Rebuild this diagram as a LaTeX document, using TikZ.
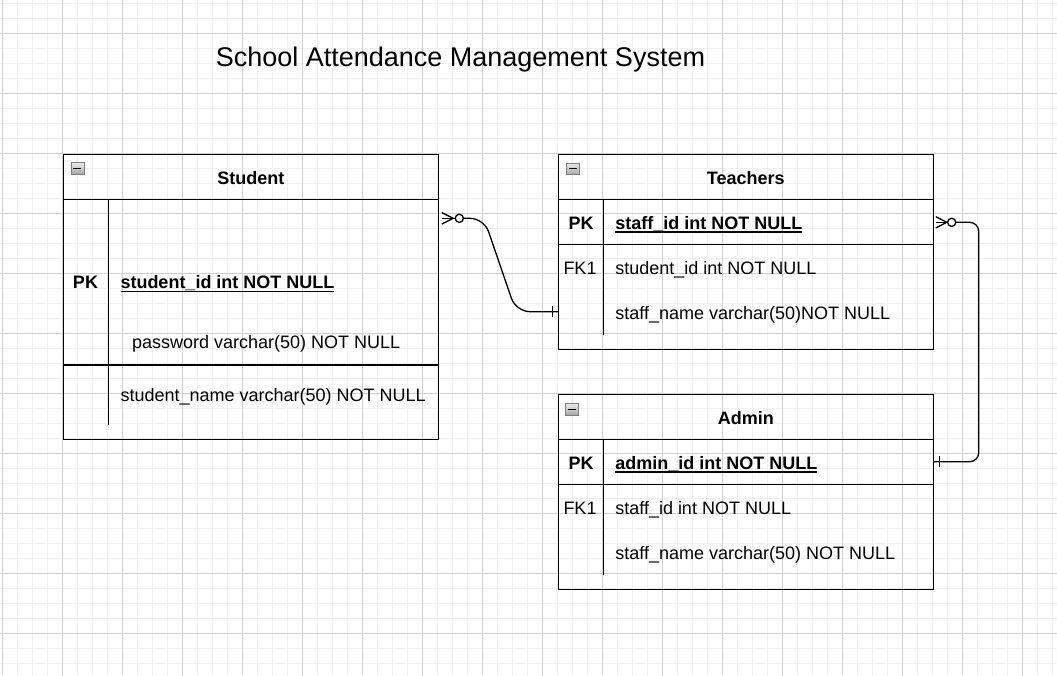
\documentclass[tikz,border=0pt]{standalone}
\usepackage{fontspec}
\setmainfont{Liberation Sans}
\begin{document}
\begin{tikzpicture}[x=1pt,y=-1pt,
  minorgrid/.style={draw=black!6, line width=1pt},
  majorgrid/.style={draw=black!19, line width=1pt},
  entbox/.style={draw=black, line width=1.3pt, inner sep=0pt, outer sep=0pt, minimum width=375pt},
  divline/.style={draw=black, line width=1.3pt},
  txt/.style={inner sep=0pt, outer sep=0pt, anchor=base west, font=\fontsize{18}{18}\selectfont},
  keytxt/.style={inner sep=0pt, outer sep=0pt, anchor=base, font=\fontsize{18}{18}\selectfont},
  bkeytxt/.style={keytxt, font=\fontsize{18}{18}\selectfont\bfseries},
  btxt/.style={txt, font=\fontsize{18}{18}\selectfont\bfseries},
  headtxt/.style={inner sep=0pt, outer sep=0pt, anchor=base, font=\fontsize{18}{18}\selectfont\bfseries},
  uline/.style={draw=black, line width=1.3pt},
  minusicon/.style={inner sep=0pt, outer sep=0pt, minimum width=13pt, minimum height=11.5pt,
    draw=black!50, line width=0.6pt, top color=black!8, bottom color=black!35,
    path picture={\draw[black, line width=1.1pt] ([xshift=2.5pt]path picture bounding box.west) -- ([xshift=-2.5pt]path picture bounding box.east);}},
  conn/.style={draw=black, line width=1.3pt},
  zerocirc/.style={circle, draw=black, line width=1.3pt, fill=white, inner sep=0pt, outer sep=0pt, minimum size=8.2pt}
]
\useasboundingbox (0,0) rectangle (1057,675);
\fill[white] (0,0) rectangle (1057,675);
% grid
\begin{scope}
\clip (0,0) rectangle (1057,675);
\foreach \x in {2.5,17.5,...,1060} \draw[minorgrid] (\x,0) -- (\x,675);
\foreach \y in {3.5,18.5,...,680} \draw[minorgrid] (0,\y) -- (1057,\y);
\foreach \x in {2.5,62.5,...,1060} \draw[majorgrid] (\x,0) -- (\x,675);
\foreach \y in {33.5,93.5,...,680} \draw[majorgrid] (0,\y) -- (1057,\y);
\end{scope}

% title
\node[inner sep=0pt, outer sep=0pt, anchor=base west, font=\fontsize{27}{27}\selectfont] (title) at (215.8,66.2) {School Attendance Management System};

% ---------- Student ----------
\node[entbox, minimum height=285pt] (student) at (250.8,297) {};
\draw[divline] (63.3,199.5) -- (438.3,199.5);
\draw[divline] (63.3,365) -- (438.3,365);
\draw[divline] (108.3,199.5) -- (108.3,424.5);
\node[minusicon] (smin) at (77.3,168.5) {};
\node[headtxt] (shead) at (250.8,184.3) {Student};
\node[bkeytxt] (spk) at (85.5,288.5) {PK};
\node[btxt] (sid) at (120.5,288.5) {student\_id int NOT NULL};
\draw[uline] ([yshift=-2.7pt]sid.base west) -- ([yshift=-2.7pt]sid.base east);
\node[txt] (spw) at (132,348.3) {password varchar(50) NOT NULL};
\node[txt] (sname) at (120.5,401.7) {student\_name varchar(50) NOT NULL};

% ---------- Teachers ----------
\node[entbox, minimum height=195pt] (teach) at (745.8,252) {};
\draw[divline] (558.3,199.5) -- (933.3,199.5);
\draw[divline] (558.3,244.5) -- (933.3,244.5);
\draw[divline] (603.3,199.5) -- (603.3,334.5);
\node[minusicon] (tmin) at (572.5,168.8) {};
\node[headtxt] (thead) at (745.8,184.3) {Teachers};
\node[bkeytxt] (tpk) at (581,229.3) {PK};
\node[btxt] (tid) at (615.3,229.3) {staff\_id int NOT NULL};
\draw[uline] ([yshift=-2.7pt]tid.base west) -- ([yshift=-2.7pt]tid.base east);
\node[keytxt] (tfk) at (580,274.3) {FK1};
\node[txt] (tsid) at (615.3,274.3) {student\_id int NOT NULL};
\node[txt] (tname) at (615.3,319.3) {staff\_name varchar(50)NOT NULL};

% ---------- Admin ----------
\node[entbox, minimum height=195pt] (admin) at (745.8,492) {};
\draw[divline] (558.3,439.5) -- (933.3,439.5);
\draw[divline] (558.3,484.5) -- (933.3,484.5);
\draw[divline] (603.3,439.5) -- (603.3,574.5);
\node[minusicon] (amin) at (571.7,409.2) {};
\node[headtxt] (ahead) at (745.8,424.3) {Admin};
\node[bkeytxt] (apk) at (581,469.2) {PK};
\node[btxt] (aid) at (615.3,469.2) {admin\_id int NOT NULL};
\draw[uline] ([yshift=-2.7pt]aid.base west) -- ([yshift=-2.7pt]aid.base east);
\node[keytxt] (afk) at (580,514.2) {FK1};
\node[txt] (asid) at (615.3,514.2) {staff\_id int NOT NULL};
\node[txt] (aname) at (615.3,559.2) {staff\_name varchar(50) NOT NULL};

% ---------- Connector Student -> Teachers ----------
\coordinate (a1) at (student.east |- 0,218.3);
\coordinate (b1) at (teach.west |- 0,311.7);
\draw[conn] ([xshift=3.5pt,yshift=5.7pt]a1) -- ([xshift=15pt]a1) -- ([xshift=3.5pt,yshift=-5.7pt]a1);
\draw[conn] ([xshift=3.5pt]a1) -- ([xshift=17pt]a1);
\node[zerocirc] (o1) at ([xshift=21pt]a1) {};
\draw[conn, rounded corners=14pt] (o1.east) -- (484,218.3) -- (516,311.7) -- (b1);
\draw[conn] ([xshift=-5.6pt,yshift=5.5pt]b1) -- ([xshift=-5.6pt,yshift=-5.5pt]b1);

% ---------- Connector Teachers -> Admin ----------
\coordinate (a2) at (teach.east |- 0,222.3);
\coordinate (b2) at (admin.east |- 0,461.7);
\draw[conn] ([xshift=2.5pt,yshift=5.6pt]a2) -- ([xshift=13.5pt]a2) -- ([xshift=2.5pt,yshift=-5.6pt]a2);
\draw[conn] ([xshift=2.5pt]a2) -- ([xshift=15pt]a2);
\node[zerocirc] (o2) at ([xshift=18.4pt]a2) {};
\draw[conn, rounded corners=9pt] (o2.east) -- (978.7,222.3) -- (978.7,461.7) -- (b2);
\draw[conn] ([xshift=6pt,yshift=5.5pt]b2) -- ([xshift=6pt,yshift=-5.5pt]b2);
\end{tikzpicture}
\end{document}
